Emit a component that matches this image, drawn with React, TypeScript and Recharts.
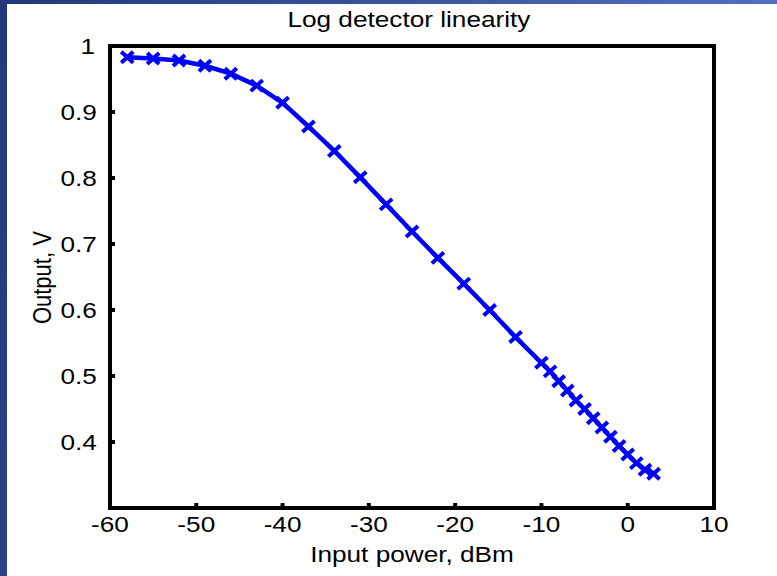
import { LineChart, Line, XAxis, YAxis } from "recharts"

const inputPower = [
  -58, -55, -52, -49, -46, -43, -40, -37, -34, -31, -28, -25, -22, -19, -16, -13,
  -10, -9, -8, -7, -6, -5, -4, -3, -2, -1, 0, 1, 2, 3,
]
const outputV = [
  0.983, 0.981, 0.978, 0.970, 0.958, 0.940, 0.914, 0.878, 0.841, 0.801, 0.760, 0.719, 0.679, 0.640, 0.600, 0.559,
  0.520, 0.507, 0.492, 0.478, 0.463, 0.450, 0.436, 0.422, 0.408, 0.394, 0.381, 0.368, 0.358, 0.352,
]
const xTicks = [-60, -50, -40, -30, -20, -10, 0, 10]
const yTicks = [0.4, 0.5, 0.6, 0.7, 0.8, 0.9, 1]

const BLUE = "#0000ff"
const FONT = "'Liberation Sans', Arial, Helvetica, sans-serif"
const boxLine = { stroke: "#000", strokeWidth: 4, strokeLinecap: "square" as const }
const tickMark = { stroke: "#000", strokeWidth: 4 }
const tickText = { fontSize: 22, fill: "#000", fontFamily: FONT }

// matlab style "x" marker
const Cross = (props: any) => {
  const { cx, cy } = props
  if (cx == null || cy == null) return null
  const sx = 6
  const sy = 5.5
  return (
    <path
      d={`M${cx - sx},${cy - sy}L${cx + sx},${cy + sy}M${cx - sx},${cy + sy}L${cx + sx},${cy - sy}`}
      stroke={BLUE}
      strokeWidth={4}
      fill="none"
    />
  )
}

export default function App() {
  const data = inputPower.map((p, i) => ({ p, v: outputV[i] }))

  return (
    <div style={{ position: "absolute", left: 0, top: 0, width: 777, height: 576, background: "#fff", overflow: "hidden" }}>
      <style>{`
        .recharts-cartesian-axis-tick-value, .stretch { transform: scaleX(1.19); transform-box: fill-box; transform-origin: center; }
        .stretch-v { transform: rotate(-90deg) scaleY(1.19); transform-box: fill-box; transform-origin: center; }
      `}</style>
      <div style={{ position: "absolute", left: 0, top: 0, width: 7, height: 576, background: "linear-gradient(#22387a, #2b4183)" }} />
      <div style={{ position: "absolute", left: 0, top: 0, width: 777, height: 4, background: "linear-gradient(to right, #22387a, #5070bf)" }} />

      <div style={{ position: "absolute", left: 0, top: 0 }}>
        <LineChart width={777} height={576} data={data} margin={{ top: 46, right: 63, bottom: 0, left: 0 }}>
          <XAxis
            dataKey="p"
            type="number"
            domain={[-60, 10]}
            ticks={xTicks}
            interval={0}
            height={68}
            axisLine={boxLine}
            tickLine={tickMark}
            tickSize={-5}
            tickMargin={13}
            tick={tickText}
          />
          <XAxis
            xAxisId="top"
            orientation="top"
            type="number"
            domain={[-60, 10]}
            ticks={xTicks}
            mirror
            axisLine={boxLine}
            tickLine={tickMark}
            tickSize={5}
            tick={false}
          />
          <YAxis
            type="number"
            domain={[0.3, 1]}
            ticks={yTicks}
            interval={0}
            width={110}
            axisLine={boxLine}
            tickLine={tickMark}
            tickSize={-5}
            tickMargin={21}
            tick={tickText}
          />
          <YAxis
            yAxisId="right"
            orientation="right"
            type="number"
            domain={[0.3, 1]}
            ticks={yTicks}
            mirror
            axisLine={boxLine}
            tickLine={tickMark}
            tickSize={5}
            tick={false}
          />
          <Line
            type="linear"
            dataKey="v"
            stroke={BLUE}
            strokeWidth={4.5}
            dot={<Cross />}
            activeDot={false}
            isAnimationActive={false}
          />
        </LineChart>
      </div>

      <svg width={777} height={576} style={{ position: "absolute", left: 0, top: 0, pointerEvents: "none" }}>
        <text className="stretch" x={409} y={27} textAnchor="middle" fontSize={22} fontFamily={FONT} fill="#000">
          Log detector linearity
        </text>
        <text className="stretch" x={412} y={562} textAnchor="middle" fontSize={22} fontFamily={FONT} fill="#000">
          Input power, dBm
        </text>
        <text className="stretch-v" x={41} y={285} textAnchor="middle" fontSize={22} fontFamily={FONT} fill="#000">
          Output, V
        </text>
      </svg>
    </div>
  )
}
